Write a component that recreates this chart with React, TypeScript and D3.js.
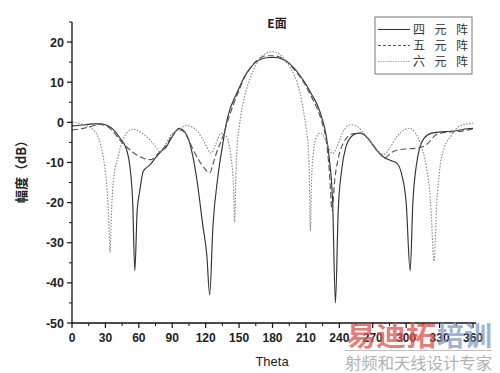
import React from 'react';
import * as d3 from 'd3';

// [theta (deg), amplitude (dB)]
const fourElement: [number, number][] = [
  [0,-0.9],[5,-0.8],[12,-0.6],[19,-0.4],[25,-0.4],[30,-0.6],[36,-1.5],[43,-3.9],[49,-6.8],[52,-11],[54.5,-20],[56.4,-37],[58.5,-22],[61,-16.8],[64,-12.2],[70,-10.6],[76,-8.5],[81,-7],[85,-6],[88,-4.5],[92,-2.7],[96,-1.5],[100,-2],[105.7,-5.2],[111.7,-13.5],[117.6,-26],[121,-33],[123.6,-43],[126.5,-26],[131,-13.5],[135.5,-5.2],[138,-1],[141.5,3],[145,5.5],[150,8.5],[155,11.5],[160,13.5],[165,15],[170,15.8],[175,16.1],[181,16.2],[185,16.1],[190,15.6],[195,14.7],[200,13.3],[205,11.5],[210,9.5],[215,7],[220,4.5],[225,0.5],[228,-3],[231,-9],[234,-20],[236.5,-45],[239,-22],[242,-12],[246,-6],[250,-3.8],[255,-2.8],[258,-2.7],[262,-3],[267,-4.5],[273,-6.8],[280,-8.7],[286,-9.5],[292,-10.3],[296,-13],[300,-20],[303.6,-37],[306,-20],[309,-11],[312,-6.5],[316,-4],[323,-2.7],[335,-2.3],[345,-2.1],[355,-1.6],[360,-1.5]
];

const fiveElement: [number, number][] = [
  [0,-1.9],[10,-1.5],[20,-0.8],[25,-0.5],[30,-0.8],[36,-2],[43,-4.4],[71,-9.3],[75,-8.4],[79,-7.3],[85,-5.5],[90,-3.2],[96,-1.8],[100,-2.2],[104,-4],[108.7,-6.8],[114,-9.5],[119,-11.5],[123.6,-12.6],[126.5,-10.5],[129.6,-7.7],[135.5,-3.5],[140,0.5],[145,4.5],[150,8],[155,11.3],[160,13.5],[165,15.2],[170,16.2],[175,16.6],[180,16.6],[185,16.4],[190,15.8],[195,14.6],[200,13],[205,11.2],[210,9],[215,6.3],[220,3.5],[225,-0.5],[228,-4],[231,-12],[233.5,-22],[236,-14],[239,-9],[243,-5.5],[248,-3.5],[253,-2.8],[258,-2.7],[263,-3.2],[268,-4.8],[274,-7],[281,-8.8],[287,-7.5],[294,-6.8],[302,-6.6],[311,-6.4],[317,-5.8],[321,-4.8],[325,-3.5],[330,-2.7],[340,-2.4],[350,-2.2],[360,-1.6]
];

const sixElement: [number, number][] = [
  [0,0],[6,-0.2],[12,-0.8],[19,-1.9],[24,-4],[28,-8.6],[31,-15],[33,-24],[34.2,-32.5],[35.5,-22],[37.5,-14],[41.5,-8.5],[45,-4.8],[49,-2.7],[55,-1.7],[62,-2.5],[70,-4.4],[75,-6],[79,-7.3],[83,-6],[88,-3.5],[96,-1.8],[102.7,-0.8],[108,-1.2],[112,-2],[118,-4.5],[125,-7.7],[129,-5.5],[134,-2.7],[138.5,-3.5],[141,-5.5],[143,-9.3],[145,-16],[146,-25],[147,-14],[148,-7],[150,-1.5],[152,2.5],[155,6.5],[160,11],[165,14.2],[170,16.3],[175,17.3],[179,17.6],[185,17.2],[190,16],[195,14],[200,11.5],[205,7],[208,2.5],[210,-1],[212,-6],[213,-12],[214,-27],[215,-15],[216.5,-8],[219,-4],[222.5,-2.7],[226,-3.5],[230,-6],[234,-7.8],[238,-6],[243,-2.5],[250.5,-0.6],[256,-1],[262,-2.8],[270,-5.5],[276,-7.5],[280,-8],[285,-6.5],[292,-3.5],[302.7,-1.5],[308,-2.5],[313,-5.5],[318,-11],[322,-20],[325,-34.6],[327.5,-20],[330,-12],[334,-6.5],[340,-3.5],[347.5,-1],[355,-0.4],[360,-0.2]
];

const seriesNames = ['四 元 阵', '五 元 阵', '六 元 阵'];
const xTicks = [0, 30, 60, 90, 120, 150, 180, 210, 240, 270, 300, 330, 360];
const yTicks = [-50, -40, -30, -20, -10, 0, 10, 20];
const title = 'E面';
const xLabel = 'Theta';
const yLabel = '幅度（dB）';

const W = 500, H = 373;
const x = d3.scaleLinear().domain([0, 360]).range([72, 473]);
const y = d3.scaleLinear().domain([-50, 25]).range([323, 22]);

const line = d3.line<[number, number]>()
  .x(d => x(d[0]))
  .y(d => y(d[1]))
  .curve(d3.curveMonotoneX);

const styles = [
  { stroke: '#333', dash: undefined as string | undefined, width: 1.15 },
  { stroke: '#555', dash: '6,3', width: 1.15 },
  { stroke: '#8a8a8a', dash: '1.5,1.5', width: 1.15 },
];
const legendStyles = [
  { stroke: '#333', dash: undefined as string | undefined },
  { stroke: '#555', dash: '3,2' },
  { stroke: '#aaa', dash: '1.5,1' },
];

const font = '"Liberation Sans", Arial, sans-serif';
const cjk = '"Noto Sans CJK SC", sans-serif';

export default function App() {
  const data = [fourElement, fiveElement, sixElement];
  const xMinor = d3.range(15, 360, 30);
  const yMinor = d3.range(-45, 26, 10);
  return (
    <svg width={W} height={H} style={{ position: 'absolute', left: 0, top: 0, background: '#fff' }}>
      <rect x={0} y={0} width={W} height={H} fill="#fff" />
      {data.map((d, i) => (
        <path key={i} d={line(d) || ''} fill="none" stroke={styles[i].stroke}
          strokeWidth={styles[i].width} strokeDasharray={styles[i].dash} />
      ))}
      <line x1={72} x2={72} y1={22} y2={323.5} stroke="#111" strokeWidth={1.3} />
      <line x1={71.5} x2={476} y1={323} y2={323} stroke="#111" strokeWidth={1.3} />
      {yTicks.map(t => (
        <g key={'y' + t}>
          <line x1={67} x2={72} y1={y(t)} y2={y(t)} stroke="#111" strokeWidth={1.2} />
          <text x={64} y={y(t)} dy="0.36em" textAnchor="end" fontFamily={font}
            fontWeight="bold" fontSize={12.5} fill="#222">{t}</text>
        </g>
      ))}
      {yMinor.map(t => (
        <line key={'ym' + t} x1={69} x2={72} y1={y(t)} y2={y(t)} stroke="#111" strokeWidth={1} />
      ))}
      {xTicks.map(t => (
        <g key={'x' + t}>
          <line x1={x(t)} x2={x(t)} y1={323} y2={328} stroke="#111" strokeWidth={1.2} />
          <text x={x(t)} y={342} textAnchor="middle" fontFamily={font}
            fontWeight="bold" fontSize={12} fill="#222">{t}</text>
        </g>
      ))}
      {xMinor.map(t => (
        <line key={'xm' + t} x1={x(t)} x2={x(t)} y1={323} y2={326} stroke="#111" strokeWidth={1} />
      ))}
      <text x={272} y={366} textAnchor="middle" fontFamily={font} fontSize={13} fill="#222">{xLabel}</text>
      <text transform="translate(26,168.5) rotate(-90)" textAnchor="middle" fontFamily={cjk}
        fontWeight="bold" fontSize={13} fill="#222">{yLabel}</text>
      <text x={277} y={28} textAnchor="middle" fontFamily={cjk} fontWeight="bold" fontSize={12} fill="#222">{title}</text>
      <rect x={375} y={17} width={97} height={57} fill="#fff" stroke="#777" strokeWidth={1} />
      {seriesNames.map((n, i) => {
        const ly = 29.5 + i * 16;
        return (
          <g key={n}>
            <line x1={378} x2={410} y1={ly} y2={ly} stroke={legendStyles[i].stroke}
              strokeDasharray={legendStyles[i].dash} strokeWidth={1} />
            <text x={413} y={ly + 4.5} fontFamily={cjk} fontSize={12} fill="#333"
              textLength={55} lengthAdjust="spacing">{n}</text>
          </g>
        );
      })}
      <g opacity={0.75}>
        <text x={346} y={346} fontFamily={cjk} fontWeight="bold" fontSize={27} fill="#d9534f"
          textLength={90} lengthAdjust="spacingAndGlyphs">易迪拓</text>
        <text x={437} y={346} fontFamily={cjk} fontWeight="bold" fontSize={27} fill="#7f9cc0"
          textLength={55} lengthAdjust="spacingAndGlyphs">培训</text>
        <line x1={345} x2={492} y1={350.5} y2={350.5} stroke="#aaa" strokeWidth={1} />
        <text x={345} y={369} fontFamily={cjk} fontSize={16} fill="#999"
          textLength={147} lengthAdjust="spacingAndGlyphs">射频和天线设计专家</text>
      </g>
    </svg>
  );
}
